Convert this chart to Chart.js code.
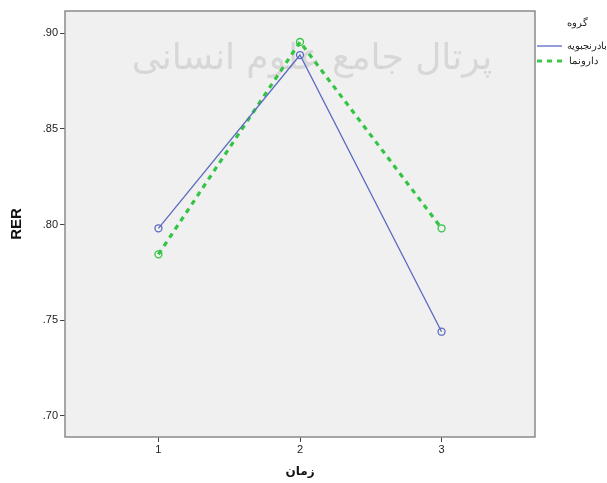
<!DOCTYPE html>
<html><head><meta charset="utf-8">
<script src="https://cdn.jsdelivr.net/npm/chart.js@4/dist/chart.umd.min.js"></script>
<style>html,body{margin:0;padding:0;background:#fff}#wrap{width:607px;height:483px}</style>
</head><body><div id="wrap"><canvas id="c" width="607" height="483"></canvas></div>
<script>
const times = [1, 2, 3];
const seriesNames = ["بادرنجبویه", "دارونما"];
const herbValues = [0.798, 0.8885, 0.744];
const placeboValues = [0.7844, 0.8953, 0.798];
const yTicks = [0.70, 0.75, 0.80, 0.85, 0.90];
const xTicks = [1, 2, 3];
const legendTitle = "گروه";
const xTitle = "زمان";
const yTitle = "RER";
const watermark = "پرتال جامع علوم انسانی";

const frame = {
  id: 'frame',
  beforeDraw(chart) {
    const {ctx, chartArea: a} = chart;
    ctx.save();
    ctx.fillStyle = '#f0f0f0';
    ctx.fillRect(a.left, a.top, a.right - a.left, a.bottom - a.top);
    ctx.font = '36px "DejaVu Sans"';
    ctx.fillStyle = 'rgba(170,170,170,0.35)';
    ctx.textAlign = 'center';
    ctx.textBaseline = 'middle';
    ctx.direction = 'rtl';
    ctx.fillText(watermark, 312, 60);
    ctx.restore();
  },
  afterDraw(chart) {
    const {ctx, chartArea: a} = chart;
    ctx.save();
    ctx.strokeStyle = '#8a8a8a';
    ctx.lineWidth = 1.5;
    ctx.strokeRect(a.left, a.top, a.right - a.left, a.bottom - a.top);
    // legend
    ctx.fillStyle = '#222';
    ctx.font = '10px "Liberation Sans"';
    ctx.textBaseline = 'middle';
    ctx.textAlign = 'center';
    ctx.direction = 'rtl';
    ctx.fillText(legendTitle, 577, 23);
    ctx.direction = 'ltr';
    ctx.strokeStyle = '#6f7fca';
    ctx.lineWidth = 1.5;
    ctx.beginPath(); ctx.moveTo(537, 46); ctx.lineTo(562, 46); ctx.stroke();
    ctx.strokeStyle = '#3cc84a';
    ctx.lineWidth = 3;
    ctx.setLineDash([5, 5]);
    ctx.beginPath(); ctx.moveTo(537, 61); ctx.lineTo(562, 61); ctx.stroke();
    ctx.setLineDash([]);
    ctx.fillStyle = '#222';
    ctx.direction = 'rtl';
    ctx.textAlign = 'right';
    ctx.fillText(seriesNames[0], 607, 46);
    ctx.fillText(seriesNames[1], 598, 61);
    ctx.restore();
  }
};

new Chart(document.getElementById('c'), {
  type: 'line',
  data: {
    datasets: [
      {
        label: seriesNames[0],
        data: times.map((t, i) => ({x: t, y: herbValues[i]})),
        borderColor: '#5b6cc0',
        borderWidth: 1.3,
        pointRadius: 3.5,
        pointBorderWidth: 1.3,
        pointBackgroundColor: 'rgba(0,0,0,0)',
        pointBorderColor: '#5b6cc0',
        tension: 0
      },
      {
        label: seriesNames[1],
        data: times.map((t, i) => ({x: t, y: placeboValues[i]})),
        borderColor: '#33c444',
        borderWidth: 3.2,
        borderDash: [5, 5],
        pointRadius: 3.5,
        pointBorderWidth: 1.3,
        pointBackgroundColor: 'rgba(0,0,0,0)',
        pointBorderColor: '#33c444',
        tension: 0
      }
    ]
  },
  options: {
    responsive: false,
    animation: false,
    layout: {padding: {top: 11, right: 72, left: 0, bottom: 0}},
    plugins: {legend: {display: false}, tooltip: {enabled: false}},
    scales: {
      x: {
        type: 'linear', min: 0.34, max: 3.66,
        afterBuildTicks(s) { s.ticks = xTicks.map(v => ({value: v})); },
        afterFit(s) { s.height = 46; },
        grid: {drawOnChartArea: false, tickLength: 5, color: '#444', lineWidth: 1},
        border: {display: false},
        ticks: {color: '#222', font: {family: 'Liberation Sans', size: 11}, padding: 1, callback: v => String(v)},
        title: {display: true, text: xTitle, color: '#111', font: {family: 'DejaVu Sans', size: 12, weight: 'bold'}, padding: {top: 11}}
      },
      y: {
        min: 0.689, max: 0.9115,
        afterBuildTicks(s) { s.ticks = yTicks.map(v => ({value: v})); },
        afterFit(s) { s.width = 65; },
        grid: {drawOnChartArea: false, tickLength: 5, color: '#444', lineWidth: 1},
        border: {display: false},
        ticks: {color: '#222', font: {family: 'Liberation Sans', size: 11}, padding: 2, callback: v => v.toFixed(2).replace(/^0/, '')},
        title: {display: true, text: yTitle, color: '#111', font: {family: 'Liberation Sans', size: 15, weight: 'bold'}, padding: {top: 8, bottom: 4}}
      }
    }
  },
  plugins: [frame]
});
</script></body></html>
